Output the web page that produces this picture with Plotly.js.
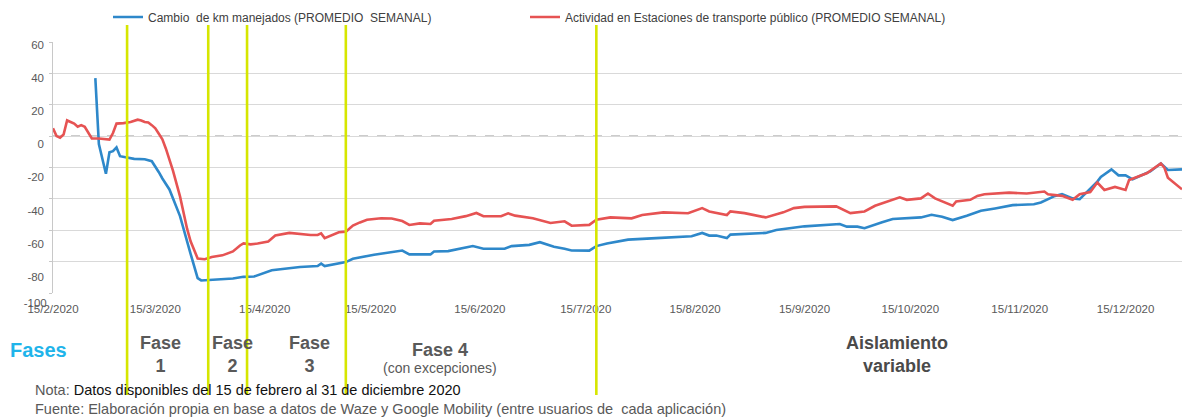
<!DOCTYPE html>
<html>
<head>
<meta charset="utf-8">
<script src="https://cdn.plot.ly/plotly-3.0.1.min.js"></script>
<style>
html,body{margin:0;padding:0;background:#ffffff;}
#chart{width:1182px;height:419px;}
</style>
</head>
<body>
<div id="chart"></div>
<script>
// ---- Data ----
const kmDates = ['2020-02-27','2020-02-28','2020-03-01','2020-03-02','2020-03-03','2020-03-04','2020-03-05','2020-03-07','2020-03-09','2020-03-12','2020-03-14','2020-03-16','2020-03-17','2020-03-19','2020-03-22','2020-03-25','2020-03-27','2020-03-28','2020-03-31','2020-04-06','2020-04-09','2020-04-12','2020-04-17','2020-04-25','2020-04-30','2020-05-01','2020-05-02','2020-05-08','2020-05-10','2020-05-16','2020-05-24','2020-05-26','2020-06-01','2020-06-02','2020-06-06','2020-06-13','2020-06-16','2020-06-22','2020-06-24','2020-06-29','2020-07-02','2020-07-06','2020-07-09','2020-07-11','2020-07-16','2020-07-18','2020-07-21','2020-07-27','2020-08-04','2020-08-14','2020-08-17','2020-08-19','2020-08-21','2020-08-24','2020-08-25','2020-09-04','2020-09-07','2020-09-15','2020-09-25','2020-09-27','2020-09-30','2020-10-02','2020-10-07','2020-10-10','2020-10-18','2020-10-21','2020-10-24','2020-10-27','2020-10-31','2020-11-04','2020-11-08','2020-11-13','2020-11-19','2020-11-21','2020-11-25','2020-11-27','2020-11-30','2020-12-02','2020-12-07','2020-12-08','2020-12-11','2020-12-13','2020-12-15','2020-12-17','2020-12-22','2020-12-25','2020-12-27','2020-12-31'];
const kmValues = [37,-5,-24,-10.3,-9.6,-7.2,-12.8,-13.5,-14.5,-14.7,-16,-23,-27,-34,-51,-75,-90.5,-92,-91.5,-90.8,-89.7,-89.5,-85.5,-83.4,-82.8,-81.3,-82.8,-80.3,-78.2,-75.6,-72.9,-75.4,-75.4,-73.5,-73.3,-70.1,-71.8,-71.8,-70.1,-69.3,-67.6,-70.5,-71.8,-72.9,-73,-70.1,-68.5,-66,-65,-63.8,-61.7,-63.4,-63.4,-65,-62.8,-61.7,-59.8,-57.5,-56,-57.7,-57.7,-58.7,-54.9,-52.8,-51.8,-50.1,-51.4,-53.5,-50.8,-47.6,-46.1,-44,-43.4,-42.3,-38.1,-37,-39.7,-40.2,-29,-26,-21.2,-25,-25,-27.5,-22.5,-17.4,-21.6,-21.2];

const transitDates = ['2020-02-15','2020-02-16','2020-02-17','2020-02-18','2020-02-19','2020-02-20','2020-02-21','2020-02-22','2020-02-23','2020-02-24','2020-02-25','2020-02-26','2020-02-28','2020-03-01','2020-03-02','2020-03-03','2020-03-04','2020-03-06','2020-03-08','2020-03-10','2020-03-11','2020-03-12','2020-03-13','2020-03-14','2020-03-15','2020-03-16','2020-03-17','2020-03-18','2020-03-19','2020-03-20','2020-03-22','2020-03-24','2020-03-25','2020-03-26','2020-03-27','2020-03-29','2020-03-31','2020-04-03','2020-04-06','2020-04-08','2020-04-09','2020-04-11','2020-04-13','2020-04-16','2020-04-18','2020-04-22','2020-04-25','2020-04-28','2020-04-30','2020-05-01','2020-05-02','2020-05-04','2020-05-06','2020-05-08','2020-05-10','2020-05-12','2020-05-14','2020-05-18','2020-05-21','2020-05-24','2020-05-26','2020-05-29','2020-06-01','2020-06-02','2020-06-07','2020-06-11','2020-06-14','2020-06-16','2020-06-21','2020-06-23','2020-06-25','2020-06-30','2020-07-05','2020-07-09','2020-07-11','2020-07-16','2020-07-18','2020-07-22','2020-07-28','2020-07-31','2020-08-06','2020-08-13','2020-08-17','2020-08-19','2020-08-24','2020-08-25','2020-08-29','2020-09-04','2020-09-09','2020-09-12','2020-09-15','2020-09-24','2020-09-28','2020-10-02','2020-10-05','2020-10-12','2020-10-14','2020-10-18','2020-10-20','2020-10-22','2020-10-27','2020-10-28','2020-11-01','2020-11-03','2020-11-05','2020-11-12','2020-11-17','2020-11-22','2020-11-23','2020-11-27','2020-11-30','2020-12-02','2020-12-05','2020-12-07','2020-12-09','2020-12-12','2020-12-15','2020-12-16','2020-12-21','2020-12-25','2020-12-26','2020-12-27','2020-12-31'];
const transitValues = [5,0,-1,1,10,9,8,6,7,6,2,-1.5,-1.5,-2,-2.2,2,8,8.3,9,10.5,10,9,8.7,7,5,1.5,-2,-8,-15,-22,-38.4,-59,-67,-73,-78,-78.5,-77,-76,-73.5,-69.7,-68.4,-69,-68.5,-67.2,-63.4,-61.7,-62.5,-63,-63,-62,-65,-63,-61.3,-60.9,-57,-55,-53.3,-52.4,-52.5,-54.1,-56.6,-55.6,-56,-53.9,-52.8,-51,-49,-51.1,-51.1,-49.2,-50.7,-52.4,-55.4,-54.3,-57.1,-56.6,-53.3,-51.8,-52.4,-50.3,-48.6,-49.2,-45.9,-48,-50.3,-48,-49.1,-51.8,-48.6,-45.9,-45.1,-44.8,-49.1,-48,-44.4,-39,-40.6,-39.7,-36.6,-39.7,-44.4,-41.6,-40.6,-38.1,-37,-36,-36.6,-35.3,-37,-38.1,-40.6,-37,-35.6,-29.6,-34.3,-32.4,-34.3,-28,-23.7,-17.4,-20.1,-26.5,-33.9];

const seriesNames = ['Cambio\u00a0 de km manejados (PROMEDIO\u00a0 SEMANAL)', 'Actividad en Estaciones de transporte público (PROMEDIO SEMANAL)'];
const phaseDates = ['2020-03-07','2020-03-30','2020-04-10','2020-05-08','2020-07-18'];
const xTickVals = ['2020-02-15','2020-03-15','2020-04-15','2020-05-15','2020-06-15','2020-07-15','2020-08-15','2020-09-15','2020-10-15','2020-11-15','2020-12-15'];
const xTickText = ['15/2/2020','15/3/2020','15/4/2020','15/5/2020','15/6/2020','15/7/2020','15/8/2020','15/9/2020','15/10/2020','15/11/2020','15/12/2020'];
const yGridVals = [60,40,20,0,-20,-40,-60,-80,-100];
const yLabelVals = [60,40,20,0,-20,-40,-60,-80];
const yLabelText = ['60','40','20','0','-20','-40','-60','-80'];

// ---- Layout helpers (pixel positions -> paper coords) ----
const L = 53, R = 1182, T = 42, B = 293;
const px = x => (x - L) / (R - L);
const py = y => (B - y) / (B - T);
const FONT = 'Liberation Sans, Arial, sans-serif';

const traces = [
  {x: kmDates, y: kmValues, name: seriesNames[0], type: 'scatter', mode: 'lines',
   legendwidth: 372, line: {color: '#2E88CA', width: 2.6}},
  {x: transitDates, y: transitValues, name: seriesNames[1], type: 'scatter', mode: 'lines',
   legendwidth: 400, line: {color: '#E65353', width: 2.6}},
  {x: [null], y: [null], yaxis: 'y2', showlegend: false, hoverinfo: 'skip', mode: 'lines'}
];

const shapes = [
  {type: 'line', xref: 'paper', x0: 0, x1: 1, yref: 'y', y0: 0, y1: 0, layer: 'below',
   line: {color: '#9a9a9a', width: 1.3, dash: 'dash'}}
];
phaseDates.forEach(d => shapes.push({
  type: 'line', xref: 'x', x0: d, x1: d, yref: 'paper', y0: py(395), y1: py(25), layer: 'above',
  line: {color: '#D6E600', width: 2.6}
}));

const gray = '#595959';
const ann = (text, x, y, size, opts) => Object.assign({
  text: text, xref: 'paper', yref: 'paper', x: px(x), y: py(y), xanchor: 'center', yanchor: 'middle',
  showarrow: false, align: 'center', font: {family: FONT, size: size, color: gray}
}, opts || {});

const annotations = [
  ann('Fases', 38, 350, 20, {font: {family: FONT, size: 20, color: '#1FB4EA', weight: 'bold'}}),
  ann('Fase<br>1', 160, 354, 18, {font: {family: FONT, size: 18, color: gray, weight: 'bold'}}),
  ann('Fase<br>2', 232, 354, 18, {font: {family: FONT, size: 18, color: gray, weight: 'bold'}}),
  ann('Fase<br>3', 309, 354, 18, {font: {family: FONT, size: 18, color: gray, weight: 'bold'}}),
  ann('Fase 4', 440, 350, 18, {font: {family: FONT, size: 18, color: gray, weight: 'bold'}}),
  ann('(con excepciones)', 440, 368, 14, {font: {family: FONT, size: 14, color: gray}}),
  ann('Aislamiento<br>variable', 897, 354, 18, {font: {family: FONT, size: 18, color: '#4a4a4a', weight: 'bold'}}),
  ann('Nota: <span style="color:#111111">Datos disponibles del 15 de febrero al 31 de diciembre 2020</span>', 33, 390, 14.5,
      {xanchor: 'left', align: 'left', font: {family: FONT, size: 14.5, color: gray}}),
  ann('Fuente: Elaboración propia en base a datos de Waze y Google Mobility (entre usuarios de\u00a0 cada aplicación)', 33, 409, 14.5,
      {xanchor: 'left', align: 'left', font: {family: FONT, size: 14.5, color: gray}})
];

const layout = {
  width: 1182, height: 419,
  margin: {l: L, r: 1182 - R, t: T, b: 419 - B, pad: 0},
  paper_bgcolor: '#ffffff', plot_bgcolor: '#ffffff',
  font: {family: FONT, size: 11.5, color: gray},
  showlegend: true,
  legend: {orientation: 'h', x: px(108), xanchor: 'left', y: py(17), yanchor: 'middle',
           entrywidthmode: 'pixels', bgcolor: 'rgba(0,0,0,0)',
           font: {family: FONT, size: 12, color: '#404040'}, itemwidth: 30},
  xaxis: {type: 'date', range: ['2020-02-15', '2020-12-31'], tickmode: 'array',
          tickvals: xTickVals, ticktext: xTickText, showgrid: false, zeroline: false,
          showline: false, ticks: '', ticklabelstandoff: 7,
          tickfont: {family: FONT, size: 11.5, color: gray}},
  yaxis: {range: [-100, 60], tickmode: 'array', tickvals: yGridVals,
          ticktext: ['', '', '', '', '', '', '', '', '-100'], ticklabelshift: 10,
          showgrid: true, gridcolor: '#d9d9d9', gridwidth: 1, zeroline: false,
          showline: true, linecolor: '#c8c8c8', linewidth: 1, ticks: 'outside', ticklen: 3, tickcolor: '#c8c8c8',
          tickfont: {family: FONT, size: 11.5, color: gray}},
  yaxis2: {overlaying: 'y', side: 'left', range: [-89.8, 61.8], tickmode: 'array',
           tickvals: yLabelVals, ticktext: yLabelText, showgrid: false, zeroline: false,
           showline: false, ticks: '', ticklabelstandoff: 8,
           tickfont: {family: FONT, size: 11.5, color: gray}},
  shapes: shapes,
  annotations: annotations,
  hovermode: false
};

Plotly.newPlot('chart', traces, layout, {displayModeBar: false, staticPlot: true});
</script>
</body>
</html>
